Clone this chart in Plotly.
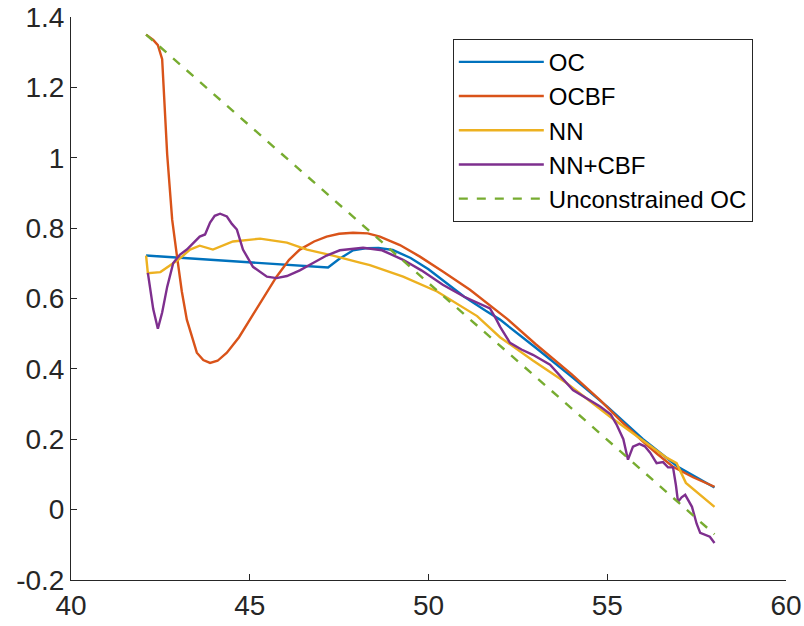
import plotly.graph_objects as go

# ---- data ----
oc_x = [42.1, 47.19, 47.5, 47.89, 48.28, 48.6, 49.0, 49.5, 50.0, 50.4, 51.0, 51.6, 52.0, 53.0, 54.0, 55.0, 56.0, 57.0, 58.0]
oc_y = [0.722, 0.688, 0.712, 0.737, 0.743, 0.744, 0.738, 0.715, 0.683, 0.652, 0.605, 0.565, 0.54, 0.46, 0.378, 0.293, 0.2, 0.12, 0.063]

ocbf_x = [42.1, 42.3, 42.43, 42.55, 42.69, 42.83, 42.97, 43.1, 43.24, 43.52, 43.7, 43.89, 44.1, 44.36, 44.7, 45.0, 45.4, 45.75, 46.1, 46.4, 46.8, 47.15, 47.5, 47.89,
          48.3, 48.64, 49.2, 49.76, 50.4, 51.16, 52.2, 53.0, 54.0, 54.8, 55.4, 56.0, 56.4, 56.84, 57.4, 58.0]
ocbf_y = [1.35, 1.335, 1.32, 1.28, 1.01, 0.824, 0.716, 0.62, 0.54, 0.446, 0.425, 0.417, 0.423, 0.446, 0.49, 0.54, 0.605, 0.662, 0.71, 0.739, 0.762, 0.776, 0.784, 0.787,
          0.785, 0.776, 0.752, 0.719, 0.677, 0.625, 0.542, 0.47, 0.385, 0.311, 0.25, 0.193, 0.158, 0.122, 0.092, 0.065]

nn_x = [42.1, 42.15, 42.5, 43.0, 43.33, 43.6, 43.97, 44.53, 45.29, 46.04, 46.6, 47.33, 48.08, 48.36, 49.29, 50.24, 51.36, 52.0, 52.92, 53.86, 55.08, 56.1, 56.67, 56.94, 57.2, 58.0]
nn_y = [0.722, 0.672, 0.675, 0.71, 0.739, 0.75, 0.739, 0.762, 0.77, 0.759, 0.739, 0.722, 0.702, 0.695, 0.662, 0.62, 0.55, 0.49, 0.424, 0.36, 0.264, 0.19, 0.147, 0.132, 0.076, 0.008]

nncbf_x = [42.15, 42.3, 42.43, 42.55, 42.69, 42.86, 43.05, 43.24, 43.6, 43.75, 43.89, 44.02, 44.17, 44.36, 44.5, 44.64, 44.81, 45.09, 45.48, 45.75, 46.04, 46.4, 46.77, 47.15, 47.52,
            48.17, 48.7, 49.29, 49.8, 50.4, 51.0, 51.5, 51.72, 51.9, 52.0, 52.28, 52.6, 52.92, 53.4, 54.04, 54.8, 55.1, 55.27, 55.45, 55.58, 55.72, 55.9, 56.05, 56.2, 56.38,
            56.56, 56.7, 56.84, 56.92, 56.98, 57.08, 57.18, 57.37, 57.5, 57.6, 57.87, 58.0]
nncbf_y = [0.673, 0.57, 0.514, 0.56, 0.633, 0.701, 0.725, 0.739, 0.776, 0.782, 0.816, 0.835, 0.841, 0.833, 0.812, 0.796, 0.739, 0.69, 0.662, 0.658, 0.664, 0.68, 0.701, 0.722, 0.737,
            0.744, 0.737, 0.71, 0.68, 0.639, 0.605, 0.582, 0.572, 0.54, 0.52, 0.474, 0.455, 0.44, 0.412, 0.34, 0.293, 0.27, 0.24, 0.2, 0.142, 0.179, 0.187, 0.18, 0.162, 0.132,
            0.135, 0.12, 0.12, 0.07, 0.022, 0.035, 0.042, 0.008, -0.04, -0.066, -0.077, -0.095]

unc_x = [42.1, 46.0, 50.0, 54.0, 58.0]
unc_y = [1.35, 1.001, 0.644, 0.288, -0.07]

names = ["OC", "OCBF", "NN", "NN+CBF", "Unconstrained OC"]
colors = ["#0072BD", "#D95319", "#EDB120", "#7E2F8E", "#77AC30"]
series = [(oc_x, oc_y), (ocbf_x, ocbf_y), (nn_x, nn_y), (nncbf_x, nncbf_y), (unc_x, unc_y)]
dashes = ["solid", "solid", "solid", "solid", "dash"]

x_ticks = [40, 45, 50, 55, 60]
y_ticks = [-0.2, 0, 0.2, 0.4, 0.6, 0.8, 1, 1.2, 1.4]
y_labels = ["-0.2", "0", "0.2", "0.4", "0.6", "0.8", "1", "1.2", "1.4"]

fig = go.Figure()
for (xs, ys), name, col, dash in zip(series, names, colors, dashes):
    fig.add_trace(go.Scatter(x=xs, y=ys, mode="lines", name=name,
                             line=dict(color=col, width=2.4, dash=dash)))

axis_common = dict(showgrid=False, zeroline=False, showline=True, linecolor="#262626", linewidth=1,
                   ticks="inside", ticklen=6, tickcolor="#262626", tickwidth=1, automargin=False,
                   tickfont=dict(family="Liberation Sans, Arial", size=28, color="#262626"), mirror=False)
fig.update_xaxes(range=[40, 60], tickvals=x_ticks, ticktext=[str(v) for v in x_ticks], **axis_common)
fig.update_yaxes(range=[-0.2, 1.4], tickvals=y_ticks, ticktext=y_labels, **axis_common)

fig.update_layout(
    width=804, height=626,
    margin=dict(l=71, r=18, t=17, b=46, autoexpand=False),
    plot_bgcolor="white", paper_bgcolor="white",
    font=dict(family="Liberation Sans, Arial", size=24, color="#000000"),
    legend=dict(x=0.534, y=0.9614, xanchor="left", yanchor="top",
                bgcolor="white", bordercolor="#262626", borderwidth=1,
                font=dict(size=24), itemwidth=85, tracegroupgap=0),
    showlegend=True,
)

fig.write_html("out.html")
